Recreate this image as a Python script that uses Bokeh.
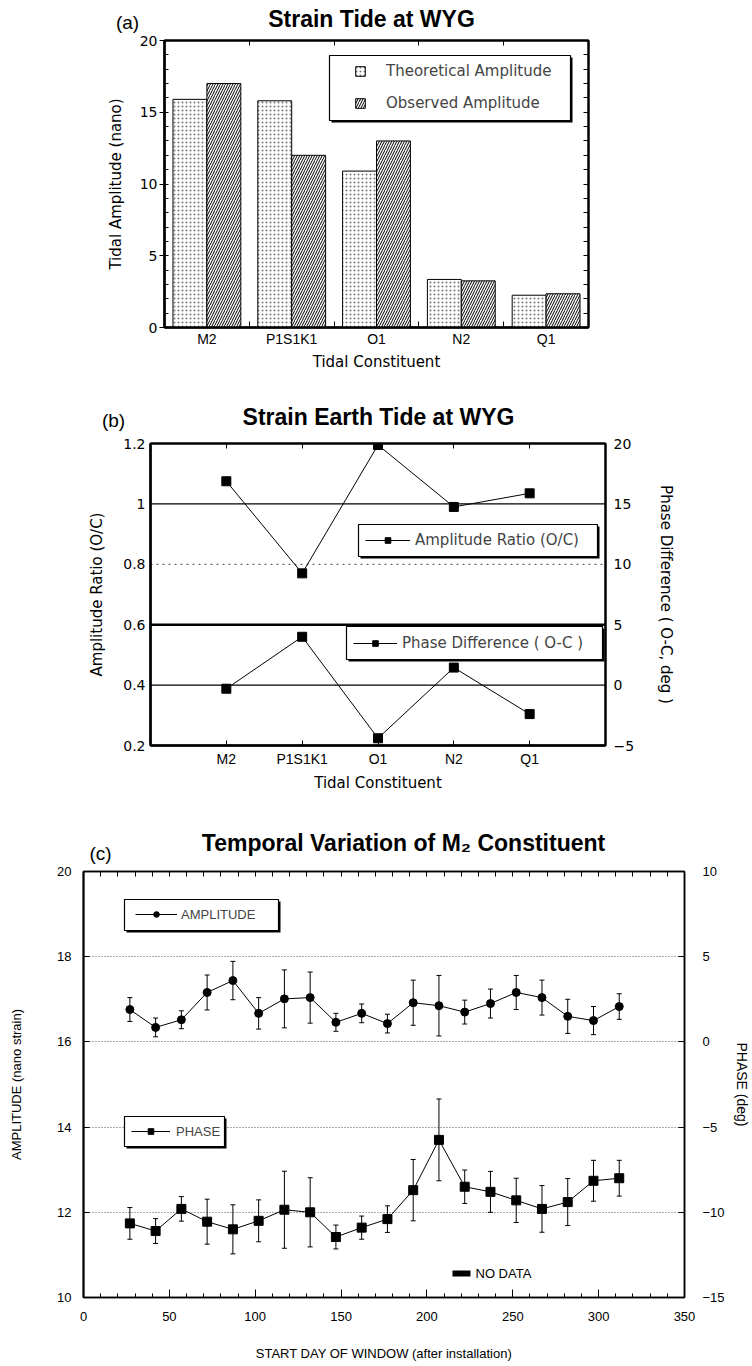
import numpy as np
from bokeh.plotting import figure
from bokeh.models import (Range1d, LinearAxis, FixedTicker, Legend, LegendItem, Label,
                          Span, Whisker, TeeHead, ColumnDataSource, BoxAnnotation)
from bokeh.transform import dodge
from bokeh.embed import file_html
from bokeh.resources import INLINE

# ---------------- data ----------------
constituents = ["M2", "P1S1K1", "O1", "N2", "Q1"]
theoretical_amplitude = [15.9, 15.8, 10.9, 3.35, 2.25]
observed_amplitude = [17.0, 12.0, 13.0, 3.25, 2.35]

amplitude_ratio = [1.075, 0.77, 1.195, 0.99, 1.035]
phase_difference = [-0.3, 4.0, -4.4, 1.45, -2.4]

start_day = [27, 42, 57, 72, 87, 102, 117, 132, 147, 162,
             177, 192, 207, 222, 237, 252, 267, 282, 297, 312]
m2_amplitude = [16.76, 16.34, 16.52, 17.16, 17.44, 16.67, 17.01, 17.04, 16.46, 16.67,
                16.43, 16.92, 16.85, 16.70, 16.90, 17.16, 17.04, 16.60, 16.50, 16.83]
m2_amplitude_err = [0.28, 0.22, 0.21, 0.41, 0.45, 0.37, 0.68, 0.60, 0.21, 0.22,
                    0.22, 0.53, 0.71, 0.28, 0.34, 0.40, 0.41, 0.40, 0.33, 0.30]
m2_phase = [-10.65, -11.1, -9.8, -10.55, -11.0, -10.5, -9.85, -10.0, -11.45, -10.9,
            -10.4, -8.7, -5.75, -8.5, -8.8, -9.3, -9.8, -9.4, -8.15, -8.0]
m2_phase_err = [0.93, 0.73, 0.72, 1.32, 1.44, 1.23, 2.26, 2.03, 0.70, 0.68,
                0.78, 1.80, 2.40, 0.98, 1.20, 1.30, 1.37, 1.38, 1.20, 1.05]

amp_ticks = [0, 5, 10, 15, 20]
ratio_ticks = [0.2, 0.4, 0.6, 0.8, 1.0, 1.2]
phase_diff_ticks = [-5, 0, 5, 10, 15, 20]
day_ticks = [0, 50, 100, 150, 200, 250, 300, 350]
m2_amp_ticks = [10, 12, 14, 16, 18, 20]
m2_phase_ticks = [-15, -10, -5, 0, 5, 10]
ratio_ref_lines = [1.0, 0.8, 0.6, 0.4]
m2_grid_lines = [12, 14, 16, 18]

# ---------------- styling ----------------
W = 752
SANS = "Liberation Sans"
ROUND = "DejaVu Sans"


def base_fig(h, left, right, top, bottom, xr, yr):
    p = figure(width=W, height=h, x_range=xr, y_range=yr, output_backend="svg",
               toolbar_location=None, min_border_left=left, min_border_right=right,
               min_border_top=top, min_border_bottom=bottom)
    p.title.visible = False
    p.xgrid.visible = False
    p.ygrid.visible = False
    p.outline_line_color = "black"
    p.outline_line_width = 2
    return p


def style_axis(ax, font, size, tick_in=0, tick_out=0, minor_in=0, minor_out=0,
               standoff=4, lw=2):
    ax.axis_line_color = "black"
    ax.axis_line_width = lw
    ax.major_tick_in = tick_in
    ax.major_tick_out = tick_out
    ax.minor_tick_in = minor_in
    ax.minor_tick_out = minor_out
    ax.major_tick_line_color = "black"
    ax.minor_tick_line_color = "black"
    ax.major_label_text_font = font
    ax.major_label_text_font_size = size
    ax.major_label_text_color = "black"
    ax.major_label_standoff = standoff
    ax.axis_label_text_color = "black"
    ax.axis_label_text_font_style = "normal"


def tick_only_axis(minor, minor_in, lw=2, y_range_name=None):
    kw = {} if y_range_name is None else {"y_range_name": y_range_name}
    ax = LinearAxis(ticker=FixedTicker(ticks=[], minor_ticks=minor), **kw)
    style_axis(ax, SANS, "12px", minor_in=minor_in, standoff=0, lw=lw)
    return ax


def box_with_shadow(p, left, right, top, bottom, shadow=2, lw=1.2):
    p.add_layout(BoxAnnotation(left=left + shadow, right=right + shadow,
                               top=top - shadow, bottom=bottom - shadow,
                               left_units="screen", right_units="screen",
                               top_units="screen", bottom_units="screen",
                               fill_color="black", fill_alpha=1, line_color=None))
    p.add_layout(BoxAnnotation(left=left, right=right, top=top, bottom=bottom,
                               left_units="screen", right_units="screen",
                               top_units="screen", bottom_units="screen",
                               fill_color="white", fill_alpha=1, line_color="black",
                               line_width=lw, line_alpha=1))


def side_label(p, side, x, y, text, size="19px", bold=False):
    p.add_layout(Label(x=x, y=y, x_units="canvas", y_units="canvas", text=text,
                       text_font=SANS, text_font_size=size,
                       text_font_style="bold" if bold else "normal",
                       text_align="center", text_baseline="middle", text_color="black"),
                 side)


# ================= Panel (a) =================
n = len(constituents)
xa = [i + 0.5 for i in range(n)]
bounds_a = list(range(1, n))
src_a = ColumnDataSource(dict(x=xa, theo=theoretical_amplitude, obs=observed_amplitude))

p1 = base_fig(390, 164, 164, 40, 63, Range1d(0, n), Range1d(0, 20))
r_theo = p1.vbar(x=dodge("x", -0.2), top="theo", bottom=0, width=0.4, source=src_a,
                 fill_color="white", line_color="black", line_width=1,
                 hatch_pattern=".", hatch_color="#777777", hatch_scale=4, hatch_weight=1)
r_obs = p1.vbar(x=dodge("x", 0.2), top="obs", bottom=0, width=0.4, source=src_a,
                fill_color="white", line_color="black", line_width=1,
                hatch_pattern="/", hatch_color="black", hatch_scale=5, hatch_weight=1)

xax = p1.xaxis[0]
xax.ticker = FixedTicker(ticks=xa, minor_ticks=bounds_a)
xax.major_label_overrides = {x: c for x, c in zip(xa, constituents)}
style_axis(xax, SANS, "14px", tick_in=0, tick_out=0, minor_in=6, standoff=3, lw=2.5)
xax.axis_label = "Tidal Constituent"
xax.axis_label_text_font = ROUND
xax.axis_label_text_font_size = "15px"
xax.axis_label_standoff = 3

yax = p1.yaxis[0]
yax.ticker = FixedTicker(ticks=amp_ticks, minor_ticks=list(range(0, 21)))
style_axis(yax, ROUND, "14px", tick_in=0, tick_out=5, minor_in=4, standoff=2, lw=2.5)
yax.axis_label = "Tidal Amplitude (nano)"
yax.axis_label_text_font = ROUND
yax.axis_label_text_font_size = "15px"
yax.axis_label_standoff = 12

p1.add_layout(tick_only_axis(bounds_a, 5), "above")
p1.add_layout(tick_only_axis(list(range(0, 21)), 5), "right")

box_with_shadow(p1, 165, 406, 272, 207)
leg_a = Legend(items=[LegendItem(label="Theoretical Amplitude", renderers=[r_theo]),
                      LegendItem(label="Observed Amplitude", renderers=[r_obs])],
               location=(190, 212), padding=0, spacing=8, margin=0,
               label_height=24, glyph_height=12, glyph_width=12, label_standoff=20,
               border_line_color=None, background_fill_alpha=0,
               label_text_font=ROUND, label_text_font_size="15px")
p1.add_layout(leg_a)

side_label(p1, "above", 371, 18, "Strain Tide at WYG", size="23px", bold=True)
side_label(p1, "right", 127, 22, "(a)", size="19px")

# ================= Panel (b) =================
xb = [i + 1 for i in range(n)]
p2 = base_fig(415, 150, 147, 53, 60, Range1d(0, n + 1), Range1d(0.2, 1.2))
p2.extra_y_ranges = {"phase": Range1d(-5, 20)}

ref_dash = ["solid", "dotted", "solid", "solid"]
ref_width = [1.2, 1, 2.5, 1.2]
ref_color = ["black", "#444444", "black", "black"]
for lvl, d, w, c in zip(ratio_ref_lines, ref_dash, ref_width, ref_color):
    p2.add_layout(Span(location=lvl, dimension="width", line_color=c, line_width=w,
                       line_dash=d, level="underlay"))

src_b = ColumnDataSource(dict(x=xb, ratio=amplitude_ratio, phase=phase_difference))
l_ratio = p2.line("x", "ratio", source=src_b, line_color="black", line_width=1)
s_ratio = p2.scatter("x", "ratio", source=src_b, marker="square", size=9,
                     fill_color="black", line_color="black")
l_phase = p2.line("x", "phase", source=src_b, line_color="black", line_width=1,
                  y_range_name="phase")
s_phase = p2.scatter("x", "phase", source=src_b, marker="square", size=9,
                     fill_color="black", line_color="black", y_range_name="phase")

xbx = p2.xaxis[0]
xbx.ticker = FixedTicker(ticks=xb)
xbx.major_label_overrides = {x: c for x, c in zip(xb, constituents)}
style_axis(xbx, SANS, "14px", tick_in=5, standoff=5, lw=2.5)
xbx.axis_label = "Tidal Constituent"
xbx.axis_label_text_font = ROUND
xbx.axis_label_text_font_size = "15px"
xbx.axis_label_standoff = 4

ybx = p2.yaxis[0]
ybx.ticker = FixedTicker(ticks=ratio_ticks)
ybx.major_label_overrides = {1.0: "1"}
style_axis(ybx, ROUND, "14px", standoff=5, lw=2.5)
ybx.axis_label = "Amplitude Ratio (O/C)"
ybx.axis_label_text_font = ROUND
ybx.axis_label_text_font_size = "15px"
ybx.axis_label_standoff = 14

p2.add_layout(tick_only_axis(xb, 5), "above")
right_b = LinearAxis(y_range_name="phase", ticker=FixedTicker(ticks=phase_diff_ticks))
style_axis(right_b, ROUND, "14px", standoff=8)
right_b.axis_label = "Phase Difference ( O-C, deg )"
right_b.axis_label_text_font = ROUND
right_b.axis_label_text_font_size = "15px"
right_b.axis_label_standoff = 20
p2.add_layout(right_b, "right")

box_with_shadow(p2, 208, 447, 221, 189)
leg_b1 = Legend(items=[LegendItem(label="Amplitude Ratio (O/C)", renderers=[l_ratio, s_ratio])],
                location=(215, 196), padding=0, margin=0, label_height=18, glyph_height=14,
                glyph_width=45, label_standoff=5, border_line_color=None,
                background_fill_alpha=0, label_text_font=ROUND, label_text_font_size="15px")
p2.add_layout(leg_b1)
box_with_shadow(p2, 196, 452, 119, 86)
leg_b2 = Legend(items=[LegendItem(label="Phase Difference ( O-C )", renderers=[l_phase, s_phase])],
                location=(203, 93), padding=0, margin=0, label_height=18, glyph_height=14,
                glyph_width=44, label_standoff=5, border_line_color=None,
                background_fill_alpha=0, label_text_font=ROUND, label_text_font_size="15px")
p2.add_layout(leg_b2)

side_label(p2, "above", 378, 26, "Strain Earth Tide at WYG", size="23px", bold=True)
side_label(p2, "right", 113, 30, "(b)", size="19px")

# ================= Panel (c) =================
p3 = base_fig(561, 83, 64, 66, 69, Range1d(0, 350), Range1d(10, 20))
p3.outline_line_width = 1.5
p3.extra_y_ranges = {"phase": Range1d(-15, 10)}
p3.ygrid.visible = True
p3.ygrid.ticker = FixedTicker(ticks=m2_grid_lines)
p3.ygrid.grid_line_color = "#555555"
p3.ygrid.grid_line_dash = "1 2"
p3.ygrid.grid_line_width = 1

amp = np.array(m2_amplitude)
amp_e = np.array(m2_amplitude_err)
ph = np.array(m2_phase)
ph_e = np.array(m2_phase_err)
src_c = ColumnDataSource(dict(day=start_day, amp=amp, amp_hi=amp + amp_e, amp_lo=amp - amp_e,
                              ph=ph, ph_hi=ph + ph_e, ph_lo=ph - ph_e))

p3.add_layout(Whisker(source=src_c, base="day", upper="amp_hi", lower="amp_lo",
                      line_color="black", line_width=1,
                      upper_head=TeeHead(size=5, line_width=1),
                      lower_head=TeeHead(size=5, line_width=1)))
p3.add_layout(Whisker(source=src_c, base="day", upper="ph_hi", lower="ph_lo",
                      y_range_name="phase", line_color="black", line_width=1,
                      upper_head=TeeHead(size=5, line_width=1),
                      lower_head=TeeHead(size=5, line_width=1)))

l_amp = p3.line("day", "amp", source=src_c, line_color="black", line_width=1)
s_amp = p3.scatter("day", "amp", source=src_c, marker="circle", size=8,
                   fill_color="black", line_color="black")
l_ph = p3.line("day", "ph", source=src_c, line_color="black", line_width=1,
               y_range_name="phase")
s_ph = p3.scatter("day", "ph", source=src_c, marker="square", size=9,
                  fill_color="black", line_color="black", y_range_name="phase")

xcx = p3.xaxis[0]
xcx.ticker = FixedTicker(ticks=day_ticks, minor_ticks=list(range(0, 351, 10)))
style_axis(xcx, SANS, "13px", tick_in=8, minor_in=4, standoff=14, lw=1.5)
xcx.axis_label = "START DAY OF WINDOW (after installation)"
xcx.axis_label_text_font = SANS
xcx.axis_label_text_font_size = "13px"
xcx.axis_label_standoff = 22

ycx = p3.yaxis[0]
ycx.ticker = FixedTicker(ticks=m2_amp_ticks)
style_axis(ycx, SANS, "13px", tick_in=6, standoff=12, lw=2)
ycx.axis_label = "AMPLITUDE (nano strain)"
ycx.axis_label_text_font = SANS
ycx.axis_label_text_font_size = "13px"
ycx.axis_label_standoff = 30

p3.add_layout(tick_only_axis(list(range(0, 351, 10)), 5, lw=1.5), "above")
right_c = LinearAxis(y_range_name="phase", ticker=FixedTicker(ticks=m2_phase_ticks))
style_axis(right_c, SANS, "13px", tick_in=6, standoff=18, lw=1.5)
right_c.axis_label = "PHASE (deg)"
right_c.axis_label_text_font = SANS
right_c.axis_label_text_font_size = "14px"
right_c.axis_label_standoff = 6
p3.add_layout(right_c, "right")

box_with_shadow(p3, 41, 195, 398, 367)
leg_c1 = Legend(items=[LegendItem(label="AMPLITUDE", renderers=[l_amp, s_amp])],
                location=(52, 375), padding=0, margin=0, label_height=16, glyph_height=14,
                glyph_width=42, label_standoff=4, border_line_color=None,
                background_fill_alpha=0, label_text_font=SANS, label_text_font_size="13px")
p3.add_layout(leg_c1)
box_with_shadow(p3, 41, 141, 181, 151)
leg_c2 = Legend(items=[LegendItem(label="PHASE", renderers=[l_ph, s_ph])],
                location=(48, 158), padding=0, margin=0, label_height=16, glyph_height=14,
                glyph_width=39, label_standoff=6, border_line_color=None,
                background_fill_alpha=0, label_text_font=SANS, label_text_font_size="13px")
p3.add_layout(leg_c2)

# "NO DATA" key: black swatch + text (inside the frame)
p3.add_layout(BoxAnnotation(left=369, right=387, top=27, bottom=21,
                            left_units="screen", right_units="screen",
                            top_units="screen", bottom_units="screen",
                            fill_color="black", fill_alpha=1, line_color=None))
p3.add_layout(Label(x=392, y=24, x_units="screen", y_units="screen", text="NO DATA",
                    text_font=SANS, text_font_size="13px", text_baseline="middle",
                    text_align="left", text_color="black"))

side_label(p3, "above", 403, 37, "Temporal Variation of M\u2082 Constituent", size="23px", bold=True)
side_label(p3, "above", 100, 48, "(c)", size="19px")

open("out.html", "w").write(file_html([p1, p2, p3], INLINE))
